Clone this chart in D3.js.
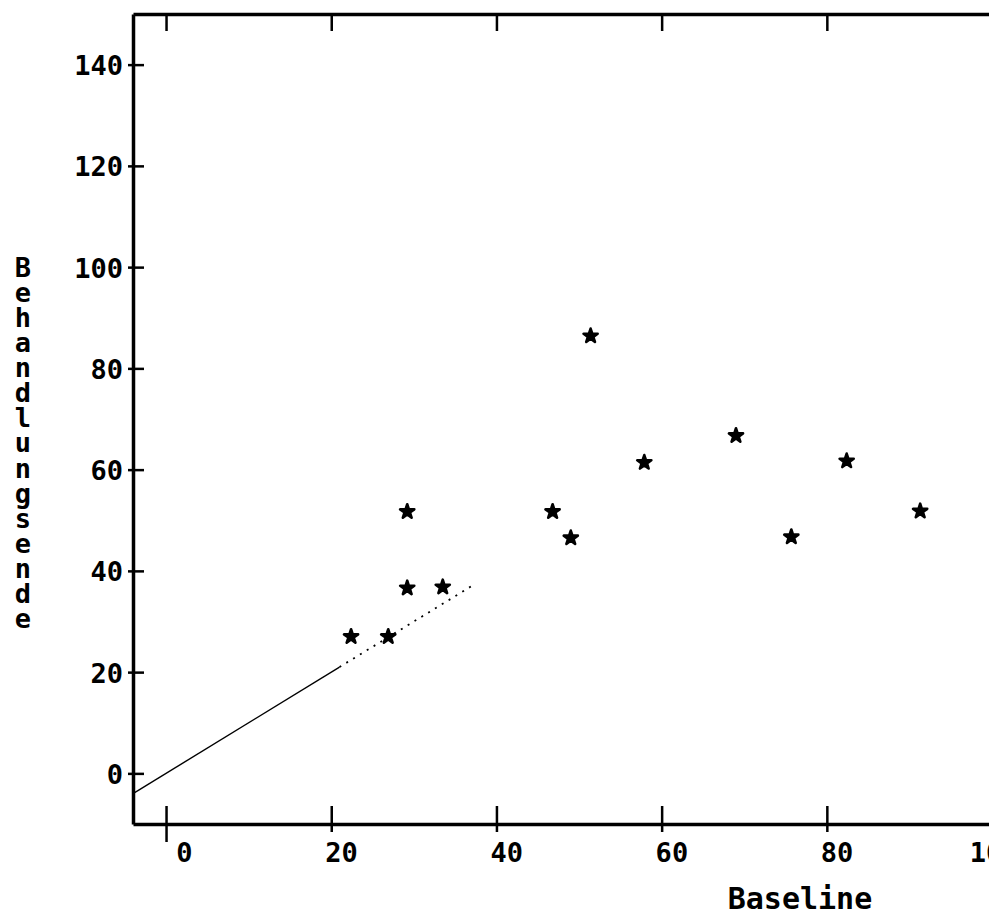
<!DOCTYPE html>
<html>
<head>
<meta charset="utf-8">
<script src="https://cdn.jsdelivr.net/npm/d3@7"></script>
<style>
  html, body { margin: 0; padding: 0; background: #fff; }
  svg { display: block; }
  text { font-family: 'DejaVu Sans Mono', monospace; font-weight: bold; fill: #000; }
</style>
</head>
<body>
<div id="chart"></div>
<script>
// data
const baseline = [22.4, 26.9, 29.2, 29.2, 33.5, 46.8, 49.0, 51.4, 57.9, 69.0, 75.7, 82.4, 91.3];
const behandlungsende = [27.0, 27.0, 51.7, 36.6, 36.8, 51.7, 46.5, 86.4, 61.4, 66.7, 46.7, 61.7, 51.8];
const xTicks = [0, 20, 40, 60, 80, 100];
const yTicks = [0, 20, 40, 60, 80, 100, 120, 140];
// identity reference line, solid part then dotted part
const refSolid = [-4, 21];
const refDotted = [21, 37];

const width = 989, height = 917;
const margin = { top: 14, left: 133, bottom: 93 };

const svg = d3.select('#chart')
  .append('svg')
  .attr('width', width)
  .attr('height', height);

svg.append('rect').attr('width', width).attr('height', height).attr('fill', '#fff');

const x = d3.scaleLinear()
  .domain([-4, 100])
  .range([margin.left, margin.left + 104 * 8.26]);

const y = d3.scaleLinear()
  .domain([-10, 150])
  .range([height - margin.bottom, margin.top]);

// bottom axis
const xAxis = svg.append('g')
  .attr('transform', `translate(0,${y(-10)})`)
  .call(d3.axisBottom(x).tickValues(xTicks).tickSizeOuter(0).tickFormat(d3.format('d')));
xAxis.select('.domain').attr('stroke-width', 3.5);
xAxis.selectAll('.tick line')
  .attr('y1', -18)
  .attr('y2', d => d === 0 ? 18 : 8)
  .attr('stroke-width', 2.5);
xAxis.selectAll('.tick text')
  .attr('text-anchor', 'end')
  .attr('x', 26)
  .attr('y', 38)
  .attr('dy', 0)
  .attr('font-size', 27);

// top border with inward ticks
const topAxis = svg.append('g')
  .attr('transform', `translate(0,${y(150)})`)
  .call(d3.axisTop(x).tickValues(xTicks.slice(0, 5)).tickSizeInner(-17).tickSizeOuter(0).tickFormat(''));
topAxis.select('.domain').attr('stroke-width', 3.5);
topAxis.selectAll('.tick line').attr('stroke-width', 2.5);

// left axis
const yAxis = svg.append('g')
  .attr('transform', `translate(${x(-4)},0)`)
  .call(d3.axisLeft(y).tickValues(yTicks).tickSizeOuter(0));
yAxis.select('.domain').attr('stroke-width', 3.5);
yAxis.selectAll('.tick line').attr('x1', -5).attr('x2', 11).attr('stroke-width', 2.5);
yAxis.selectAll('.tick text')
  .attr('x', -10)
  .attr('dy', '0.37em')
  .attr('font-size', 27);

// reference line y = x
const line = d3.line().x(d => x(d)).y(d => y(d));
svg.append('path')
  .datum(refSolid)
  .attr('fill', 'none')
  .attr('stroke', '#000')
  .attr('stroke-width', 1.4)
  .attr('d', line);
svg.append('path')
  .datum(refDotted)
  .attr('fill', 'none')
  .attr('stroke', '#000')
  .attr('stroke-width', 1.8)
  .attr('stroke-dasharray', '2,6')
  .attr('d', line);

// stars
svg.append('g')
  .selectAll('path')
  .data(baseline)
  .join('path')
  .attr('transform', (d, i) => `translate(${x(d)},${y(behandlungsende[i])})`)
  .attr('d', d3.symbol(d3.symbolStar, 62))
  .attr('fill', '#000')
  .attr('stroke', '#000')
  .attr('stroke-width', 2.6)
  .attr('stroke-linejoin', 'round');

// axis titles
svg.append('text')
  .attr('x', 800)
  .attr('y', 909)
  .attr('text-anchor', 'middle')
  .attr('font-size', 30)
  .text('Baseline');

const yTitle = svg.append('text')
  .attr('text-anchor', 'middle')
  .attr('font-size', 27);
yTitle.selectAll('tspan')
  .data('Behandlungsende'.split(''))
  .join('tspan')
  .attr('x', 23)
  .attr('y', (d, i) => 277 + i * 25.07)
  .text(d => d);
</script>
</body>
</html>
